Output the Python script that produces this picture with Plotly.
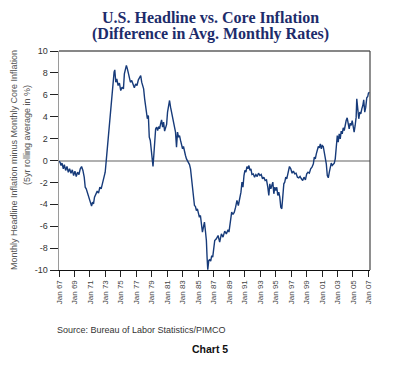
import plotly.graph_objects as go

# Decimal year and 5yr rolling difference (headline minus core, %)
years = [
    1967.00, 1967.13, 1967.26, 1967.39, 1967.56, 1967.69, 1967.86, 1968.03, 1968.20, 1968.37,
    1968.55, 1968.72, 1968.89, 1969.06, 1969.23, 1969.40, 1969.58, 1969.75, 1969.92, 1970.09,
    1970.26, 1970.39, 1970.52, 1970.65, 1970.78, 1970.91, 1971.08, 1971.21, 1971.33, 1971.46,
    1971.59, 1971.76, 1971.94, 1972.11, 1972.28, 1972.45, 1972.62, 1972.79, 1972.97, 1973.09,
    1973.22, 1973.35, 1973.48, 1973.61, 1973.74, 1973.87, 1974.00, 1974.12, 1974.21, 1974.34,
    1974.47, 1974.64, 1974.81, 1974.98, 1975.15, 1975.33, 1975.45, 1975.58, 1975.71, 1975.84,
    1975.97, 1976.10, 1976.23, 1976.40, 1976.57, 1976.74, 1976.91, 1977.08, 1977.26, 1977.43,
    1977.56, 1977.69, 1977.82, 1977.94, 1978.07, 1978.20, 1978.33, 1978.42, 1978.55, 1978.67,
    1978.80, 1978.93, 1979.06, 1979.15, 1979.27, 1979.40, 1979.49, 1979.62, 1979.75, 1979.88,
    1980.00, 1980.13, 1980.26, 1980.39, 1980.52, 1980.65, 1980.78, 1980.91, 1981.03, 1981.16,
    1981.29, 1981.42, 1981.55, 1981.68, 1981.81, 1981.94, 1982.06, 1982.19, 1982.32, 1982.45,
    1982.58, 1982.71, 1982.84, 1982.97, 1983.09, 1983.22, 1983.35, 1983.48, 1983.61, 1983.74,
    1983.87, 1984.00, 1984.12, 1984.25, 1984.38, 1984.51, 1984.64, 1984.76, 1984.89, 1985.02,
    1985.15, 1985.28, 1985.41, 1985.54, 1985.67, 1985.80, 1985.92, 1986.05, 1986.14, 1986.23,
    1986.36, 1986.48, 1986.61, 1986.74, 1986.87, 1987.00, 1987.13, 1987.34, 1987.56, 1987.77,
    1987.99, 1988.20, 1988.42, 1988.63, 1988.85, 1988.97, 1989.15, 1989.32, 1989.49, 1989.66,
    1989.83, 1990.00, 1990.18, 1990.35, 1990.52, 1990.65, 1990.78, 1990.91, 1991.03, 1991.16,
    1991.29, 1991.42, 1991.55, 1991.68, 1991.81, 1991.94, 1992.11, 1992.28, 1992.45, 1992.62,
    1992.79, 1992.97, 1993.14, 1993.31, 1993.48, 1993.65, 1993.82, 1993.99, 1994.12, 1994.25,
    1994.38, 1994.51, 1994.64, 1994.77, 1994.90, 1995.03, 1995.15, 1995.28, 1995.41, 1995.54,
    1995.67, 1995.80, 1995.93, 1996.06, 1996.18, 1996.31, 1996.44, 1996.61, 1996.79, 1996.96,
    1997.13, 1997.30, 1997.47, 1997.64, 1997.82, 1997.99, 1998.16, 1998.33, 1998.50, 1998.67,
    1998.85, 1999.02, 1999.19, 1999.36, 1999.53, 1999.70, 1999.88, 2000.00, 2000.13, 2000.26,
    2000.39, 2000.52, 2000.65, 2000.78, 2000.91, 2001.03, 2001.16, 2001.29, 2001.42, 2001.55,
    2001.68, 2001.81, 2001.94, 2002.06, 2002.19, 2002.32, 2002.45, 2002.58, 2002.71, 2002.84,
    2002.97, 2003.09, 2003.22, 2003.35, 2003.48, 2003.61, 2003.74, 2003.87, 2004.00, 2004.12,
    2004.25, 2004.38, 2004.51, 2004.64, 2004.77, 2004.90, 2005.03, 2005.15, 2005.28, 2005.41,
    2005.49, 2005.62, 2005.75, 2005.88, 2006.01, 2006.14, 2006.27, 2006.39, 2006.52, 2006.65,
    2006.78, 2006.91, 2007.00, 2007.13,
]
diff_pct = [
    -0.06, -0.15, -0.46, -0.24, -0.76, -0.37, -0.91, -0.55, -1.07, -0.76,
    -1.16, -0.85, -1.37, -0.97, -1.46, -1.07, -1.28, -0.76, -0.55, -0.91,
    -1.52, -2.44, -2.59, -2.89, -3.04, -3.35, -3.96, -4.17, -3.81, -3.96,
    -3.35, -3.10, -2.80, -2.98, -2.44, -2.59, -2.07, -1.67, -1.07, -0.15,
    0.91, 2.13, 2.44, 3.96, 4.87, 5.63, 6.70, 8.07, 8.28, 7.15,
    7.46, 6.85, 7.06, 6.39, 6.70, 6.54, 7.91, 8.22, 8.68, 8.37,
    7.91, 7.61, 7.15, 7.31, 7.00, 6.64, 7.00, 6.85, 7.37, 7.61,
    7.76, 7.15, 6.70, 6.54, 5.63, 4.87, 4.41, 3.81, 4.11, 2.13,
    1.83, 0.76, 0.00, -0.55, 0.61, 1.83, 2.89, 3.04, 2.74, 3.10,
    2.89, 3.35, 3.71, 3.04, 3.50, 2.68, 3.04, 3.29, 4.41, 5.18,
    5.48, 4.87, 4.41, 3.96, 3.50, 3.20, 2.59, 1.22, 2.59, 2.13,
    2.28, 1.83, 1.52, 1.07, 1.28, 0.76, 0.46, 0.15, -0.06, -0.30,
    -0.37, -0.76, -1.52, -2.44, -3.65, -4.11, -4.20, -4.57, -4.41, -4.87,
    -5.18, -5.02, -5.63, -6.54, -6.09, -5.63, -6.39, -7.31, -8.83, -9.98,
    -9.13, -9.07, -9.19, -8.68, -8.83, -7.76, -7.31, -7.15, -6.85, -7.46,
    -6.70, -7.00, -6.45, -6.70, -6.33, -6.54, -5.48, -4.72, -4.93, -4.72,
    -4.26, -3.65, -4.11, -3.59, -2.89, -1.98, -2.44, -1.37, -0.91, -1.07,
    -0.55, -0.76, -0.46, -0.91, -0.76, -1.28, -1.22, -1.52, -1.28, -1.46,
    -1.16, -1.37, -1.28, -1.67, -1.52, -1.83, -1.77, -2.44, -3.20, -2.13,
    -2.59, -2.28, -1.98, -3.04, -2.44, -2.74, -2.44, -3.20, -2.89, -3.35,
    -4.26, -4.41, -3.35, -2.13, -1.98, -1.52, -1.67, -1.07, -0.55, -0.76,
    -1.16, -0.97, -1.22, -1.16, -1.52, -1.58, -1.46, -1.67, -1.83, -1.52,
    -1.77, -1.22, -1.07, -1.16, -0.76, -0.61, -0.30, 0.30, 0.15, 0.61,
    0.91, 1.28, 1.16, 1.52, 1.07, 1.37, 1.28, 0.76, 0.46, -0.30,
    -1.37, -1.58, -1.07, -0.46, -0.24, -0.46, -0.30, -0.24, 0.15, 1.28,
    2.28, 1.67, 2.44, 1.98, 2.68, 2.44, 2.98, 2.74, 3.35, 3.65,
    3.90, 3.20, 2.89, 3.41, 3.20, 3.65, 2.89, 2.59, 3.20, 3.96,
    5.63, 4.57, 3.81, 4.41, 4.26, 4.72, 5.02, 5.54, 4.41, 4.87,
    5.72, 5.84, 6.15, 6.24,
]

tick_years = list(range(1967, 2008, 2))
tick_labels = ["Jan %02d" % (y % 100) for y in tick_years]
y_ticks = list(range(-10, 11, 2))

title_line1 = "U.S. Headline vs. Core Inflation"
title_line2 = "(Difference in Avg. Monthly Rates)"
ytitle_1 = "Monthly Headline Inflation minus Monthly Core Inflation"
ytitle_2 = "(5yr rolling average in %)"
source_text = "Source: Bureau of Labor Statistics/PIMCO"
chart_label = "Chart 5"

W, H = 400, 371
L, R, T, B = 59, 30, 51, 101
pw, ph = W - L - R, H - T - B

def px_x(x):
    return (x - L) / pw

def px_y(y):
    return 1 - (y - T) / ph

title_font = dict(family="Liberation Serif, Times New Roman, serif", size=16, color="#1d2c6b")
ytitle_font = dict(size=9, color="#555555")

fig = go.Figure()
fig.add_trace(go.Scatter(
    x=years, y=diff_pct, mode="lines",
    line=dict(color="#173b7a", width=1.4),
    hoverinfo="skip", showlegend=False,
))

fig.update_layout(
    width=W, height=H,
    margin=dict(l=L, r=R, t=T, b=B, pad=0),
    paper_bgcolor="white", plot_bgcolor="white",
    font=dict(family="Liberation Sans, Arial, sans-serif", color="#333333"),
    showlegend=False,
    xaxis=dict(
        range=[1967.0, 2007.2], tickmode="array", tickvals=tick_years, ticktext=tick_labels,
        tickangle=-90, ticks="outside", ticklen=6, tickcolor="#222222", tickwidth=1,
        showline=True, linecolor="#111111", linewidth=1, showgrid=False, zeroline=False,
        tickfont=dict(size=8, color="#444444"),
    ),
    yaxis=dict(
        range=[-10, 10], tickmode="array", tickvals=y_ticks, ticktext=[str(v) for v in y_ticks],
        ticks="outside", ticklen=8, tickcolor="#222222", tickwidth=1,
        showline=True, linecolor="#9a9a9a", linewidth=1.5, showgrid=False,
        zeroline=True, zerolinecolor="#b0b0b0", zerolinewidth=2,
        tickfont=dict(size=9, color="#333333"),
    ),
    shapes=[
        dict(type="line", xref="paper", yref="paper", x0=0, x1=1, y0=1, y1=1,
             line=dict(color="#111111", width=1.2)),
        dict(type="line", xref="paper", yref="paper", x0=1, x1=1, y0=0, y1=1,
             line=dict(color="#444444", width=1.2)),
    ],
    annotations=[
        dict(text="<b>" + title_line1 + "</b>", xref="paper", yref="paper",
             x=px_x(210), y=px_y(17), xanchor="center", yanchor="middle", showarrow=False,
             font=title_font),
        dict(text="<b>" + title_line2 + "</b>", xref="paper", yref="paper",
             x=px_x(210), y=px_y(34), xanchor="center", yanchor="middle", showarrow=False,
             font=title_font),
        dict(text=ytitle_1, xref="paper", yref="paper", x=px_x(14), y=px_y(160),
             xanchor="center", yanchor="middle", textangle=-90, showarrow=False,
             font=ytitle_font),
        dict(text=ytitle_2, xref="paper", yref="paper", x=px_x(27), y=px_y(135),
             xanchor="center", yanchor="middle", textangle=-90, showarrow=False,
             font=ytitle_font),
        dict(text=source_text, xref="paper", yref="paper", x=px_x(55), y=px_y(330),
             xanchor="left", yanchor="middle", showarrow=False,
             font=dict(size=9, color="#333333")),
        dict(text="<b>" + chart_label + "</b>", xref="paper", yref="paper", x=px_x(210), y=px_y(349),
             xanchor="center", yanchor="middle", showarrow=False,
             font=dict(size=10.5, color="#111111")),
    ],
)

fig.write_html("out.html", config={"displayModeBar": False, "staticPlot": True},
               post_script="document.body.style.margin='0';")
